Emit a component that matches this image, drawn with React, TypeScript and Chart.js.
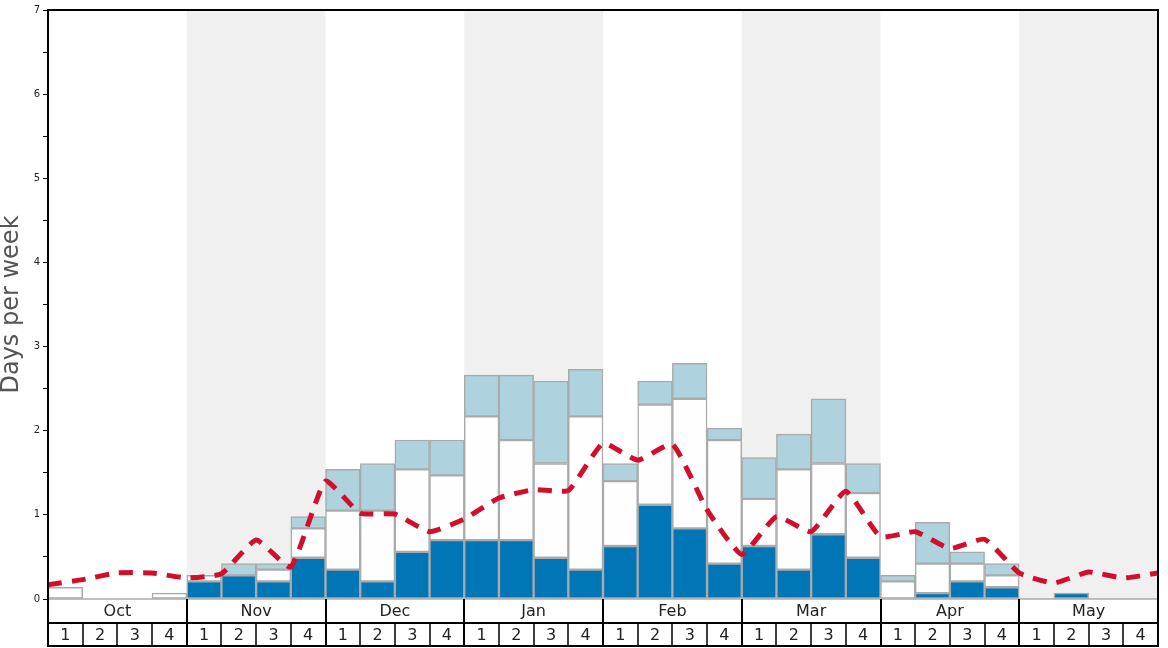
import React, { useEffect, useRef } from 'react';
import { Chart, registerables } from 'chart.js';

Chart.register(...registerables);

const months = ['Oct', 'Nov', 'Dec', 'Jan', 'Feb', 'Mar', 'Apr', 'May'];
const weekLabels = ['1', '2', '3', '4'];

// dark blue (bottom) segment, days per week
const darkDays = [
  0, 0, 0, 0,
  0.21, 0.28, 0.21, 0.49,
  0.35, 0.21, 0.56, 0.70,
  0.70, 0.70, 0.49, 0.35,
  0.63, 1.12, 0.84, 0.42,
  0.63, 0.35, 0.77, 0.49,
  0, 0.07, 0.21, 0.14,
  0, 0.07, 0, 0,
];

// white (middle) segment
const whiteDays = [
  0.14, 0, 0, 0.07,
  0.07, 0, 0.14, 0.35,
  0.70, 0.84, 0.98, 0.77,
  1.47, 1.19, 1.12, 1.82,
  0.77, 1.19, 1.54, 1.47,
  0.56, 1.19, 0.84, 0.77,
  0.21, 0.35, 0.21, 0.14,
  0, 0, 0, 0,
];

// light blue (top) segment
const lightDays = [
  0, 0, 0, 0,
  0, 0.14, 0.07, 0.14,
  0.49, 0.56, 0.35, 0.42,
  0.49, 0.77, 0.98, 0.56,
  0.21, 0.28, 0.42, 0.14,
  0.49, 0.42, 0.77, 0.35,
  0.07, 0.49, 0.14, 0.14,
  0, 0, 0, 0,
];

// red dashed trend, at week boundaries (33 points)
const trendLine = [
  0.17, 0.23, 0.31, 0.31, 0.25,
  0.30, 0.70, 0.38, 1.40,
  1.02, 1.01, 0.80, 0.95,
  1.20, 1.30, 1.29, 1.85,
  1.65, 1.84, 1.06, 0.53,
  0.98, 0.80, 1.28, 0.74,
  0.80, 0.60, 0.71, 0.31,
  0.19, 0.32, 0.25, 0.31,
];

const FONT = '"DejaVu Sans", sans-serif';

export default function App() {
  const ref = useRef<HTMLCanvasElement>(null);

  useEffect(() => {
    document.body.style.margin = '0';
    const canvas = ref.current;
    if (!canvas) return;
    const nWeeks = months.length * weekLabels.length;

    const toBars = (arr: number[]) =>
      arr.map((v, i) => ({ x: i + 0.5, y: v === 0 ? null : v }));

    const decor = {
      id: 'decor',
      beforeDatasetsDraw(chart: any) {
        const { ctx, chartArea: a, scales } = chart;
        const x = scales.x;
        ctx.save();
        ctx.fillStyle = '#f0f0f0';
        months.forEach((_m, i) => {
          if (i % 2 === 1) {
            const x0 = x.getPixelForValue(i * 4);
            const x1 = x.getPixelForValue(i * 4 + 4);
            ctx.fillRect(x0, a.top, x1 - x0, a.bottom - a.top);
          }
        });
        ctx.restore();
      },
      afterDraw(chart: any) {
        const { ctx, chartArea: a, scales } = chart;
        const x = scales.x;
        const y1 = a.bottom;
        const y2 = 623;
        const y3 = 646;
        ctx.save();
        // baseline
        ctx.strokeStyle = '#aaaaaa';
        ctx.lineWidth = 1.5;
        ctx.beginPath();
        ctx.moveTo(a.left, y1);
        ctx.lineTo(a.right, y1);
        ctx.stroke();

        ctx.strokeStyle = '#000';
        ctx.lineWidth = 2;
        ctx.beginPath();
        ctx.moveTo(a.left, a.top);
        ctx.lineTo(a.right, a.top);
        ctx.moveTo(a.left, a.top - 1);
        ctx.lineTo(a.left, y3 + 1);
        ctx.moveTo(a.right, a.top - 1);
        ctx.lineTo(a.right, y3 + 1);
        ctx.moveTo(a.left, y2);
        ctx.lineTo(a.right, y2);
        ctx.moveTo(a.left, y3);
        ctx.lineTo(a.right, y3);
        for (let i = 1; i < months.length; i++) {
          const px = Math.round(x.getPixelForValue(i * 4));
          ctx.moveTo(px, y1);
          ctx.lineTo(px, y3);
        }
        ctx.stroke();

        ctx.lineWidth = 1.5;
        ctx.beginPath();
        for (let w = 1; w < nWeeks; w++) {
          if (w % 4 === 0) continue;
          const px = Math.round(x.getPixelForValue(w));
          ctx.moveTo(px, y2);
          ctx.lineTo(px, y3);
        }
        ctx.stroke();

        ctx.fillStyle = '#222';
        ctx.font = '16px ' + FONT;
        ctx.textAlign = 'center';
        ctx.textBaseline = 'middle';
        months.forEach((m, i) => {
          ctx.fillText(m, x.getPixelForValue(i * 4 + 2), (y1 + y2) / 2 + 1);
        });
        for (let w = 0; w < nWeeks; w++) {
          ctx.fillText(weekLabels[w % 4], x.getPixelForValue(w + 0.5), (y2 + y3) / 2 + 1);
        }

        // y title
        ctx.translate(12, (a.top + a.bottom) / 2);
        ctx.rotate(-Math.PI / 2);
        ctx.fillStyle = '#555';
        ctx.font = '24px ' + FONT;
        ctx.fillText('Days per week', 0, 0);
        ctx.restore();
      },
    };

    const barCommon = {
      type: 'bar' as const,
      borderColor: '#aaaaaa',
      borderWidth: 1.5,
      borderSkipped: false,
      barPercentage: 1,
      categoryPercentage: 1,
      order: 1,
      yAxisID: 'y',
    };

    const chart = new Chart(canvas, {
      type: 'bar',
      data: {
        datasets: [
          { ...barCommon, label: 'dark', data: toBars(darkDays) as any, backgroundColor: '#0076b6' },
          { ...barCommon, label: 'white', data: toBars(whiteDays) as any, backgroundColor: '#fefefe' },
          { ...barCommon, label: 'light', data: toBars(lightDays) as any, backgroundColor: '#aed3df' },
          {
            type: 'line',
            label: 'trend',
            data: trendLine.map((v, i) => ({ x: i, y: v })) as any,
            borderColor: '#d20f2b',
            borderWidth: 5,
            borderDash: [14, 10],
            pointRadius: 0,
            tension: 0.15,
            fill: false,
            order: 0,
            yAxisID: 'y2',
          } as any,
        ],
      },
      options: {
        responsive: false,
        animation: false,
        layout: { padding: { left: 0, right: 10, top: 10, bottom: 49 } },
        plugins: { legend: { display: false }, tooltip: { enabled: false } },
        scales: {
          x: {
            type: 'linear',
            min: 0,
            max: nWeeks,
            offset: false,
            stacked: true,
            display: false,
            grid: { offset: false },
          },
          y: {
            min: 0,
            max: 7,
            stacked: true,
            afterFit: (s: any) => { s.width = 48; },
            ticks: {
              stepSize: 0.5,
              autoSkip: false,
              padding: 3,
              color: '#222',
              font: { size: 10, family: FONT },
              callback: (v: any) => (Number(v) % 1 === 0 ? String(v) : ''),
            },
            grid: { drawOnChartArea: false, drawTicks: true, tickLength: 5, color: '#000', lineWidth: 1 },
            border: { display: true, color: '#000', width: 2 },
          },
          y2: {
            min: 0,
            max: 7,
            display: false,
          },
        },
      } as any,
      plugins: [decor],
    });

    return () => chart.destroy();
  }, []);

  return (
    <div style={{ width: 1168, height: 648 }}>
      <canvas ref={ref} width={1168} height={648} style={{ display: 'block' }} />
    </div>
  );
}
